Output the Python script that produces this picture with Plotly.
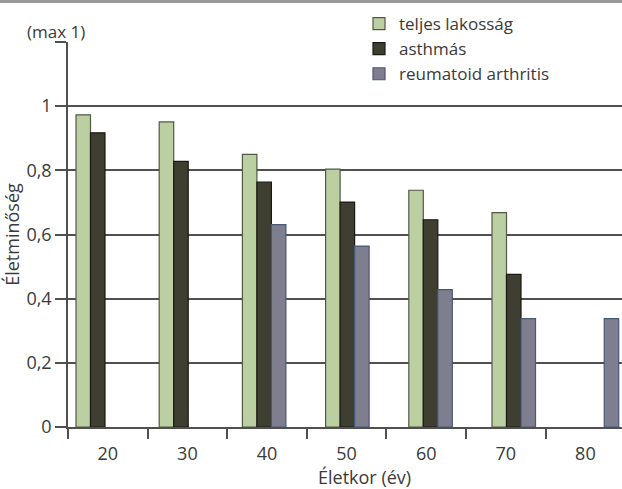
import plotly.graph_objects as go

# Age groups (years) and quality-of-life scores (max 1)
ages = ["20", "30", "40", "50", "60", "70", "80"]
teljes_lakossag = [0.973, 0.951, 0.850, 0.804, 0.738, 0.668, None]
asthmas = [0.917, 0.828, 0.763, 0.701, 0.646, 0.476, None]
reumatoid = [None, None, 0.631, 0.564, 0.428, 0.338, 0.338]

y_ticks = [0, 0.2, 0.4, 0.6, 0.8, 1.0]
y_ticktext = ["0", "0,2", "0,4", "0,6", "0,8", "1"]

FONT = "Open Sans"
FS = 18
TXT = "#3a3a3a"
GRID = "#505050"

W, H = 622, 489
ML, MR, MT, MB = 68, 0, 42, 62
PW = W - ML - MR
PH = H - MT - MB

fig = go.Figure()

series = [
    ("teljes lakosság", teljes_lakossag, "#bccfa2", "#4e5a44"),
    ("asthmás", asthmas, "#3f3f31", "#1a1a14"),
    ("reumatoid arthritis", reumatoid, "#7e7e8e", "#485a78"),
]
for name, vals, fill, edge in series:
    fig.add_trace(go.Bar(
        x=ages, y=vals, name=name, xaxis="x2", yaxis="y",
        marker=dict(color=fill, line=dict(color=edge, width=1.2)),
    ))

idx = list(range(len(ages)))

# Empty helper trace so the labelled age axis gets drawn
fig.add_trace(go.Scatter(
    x=idx, y=[None] * len(idx), xaxis="x", yaxis="y", mode="lines",
    showlegend=False, hoverinfo="skip",
))

fig.update_layout(
    width=W, height=H,
    margin=dict(l=ML, r=MR, t=MT, b=MB, pad=0),
    paper_bgcolor="white", plot_bgcolor="white",
    font=dict(family=FONT, size=FS, color=TXT),
    barmode="group", bargap=0.477, bargroupgap=0,
    showlegend=True,
    legend=dict(
        x=(359 - ML) / PW, xanchor="left",
        y=1 + (MT - 6) / PH, yanchor="top",
        bgcolor="rgba(0,0,0,0)", borderwidth=0,
        font=dict(family=FONT, size=17, color=TXT),
        tracegroupgap=0, itemclick=False,
    ),
    xaxis=dict(
        range=[-0.5, -0.5 + PW / 79.6],
        tickmode="array", tickvals=idx, ticktext=ages,
        ticks="outside", ticklen=10, tickcolor="rgba(0,0,0,0)",
        showgrid=False, zeroline=False,
        showline=True, linecolor=GRID, linewidth=1.5,
        minor=dict(
            tickmode="array", tickvals=[i - 0.5 for i in idx],
            ticks="outside", ticklen=10, tickcolor=GRID, tickwidth=1.5,
            showgrid=False,
        ),
        tickfont=dict(family=FONT, size=FS, color=TXT),
        fixedrange=True,
    ),
    xaxis2=dict(
        type="category", categoryarray=ages, categoryorder="array",
        overlaying="x", anchor="y", side="bottom",
        range=[-0.3576, 6.301], visible=False, fixedrange=True,
    ),
    yaxis=dict(
        range=[0, 1.2],
        tickmode="array", tickvals=y_ticks, ticktext=y_ticktext,
        ticks="outside", ticklen=11, tickcolor=GRID, tickwidth=1.5,
        showgrid=True, gridcolor=GRID, gridwidth=1.5,
        zeroline=False, showline=True, linecolor=GRID, linewidth=1.5,
        minor=dict(tickmode="array", tickvals=[1.2], ticks="outside",
                   ticklen=11, tickcolor=GRID, tickwidth=1.5, showgrid=False),
        tickfont=dict(family=FONT, size=FS, color=TXT),
        title=dict(text="Életminőség", standoff=4,
                   font=dict(family=FONT, size=FS, color=TXT)),
        fixedrange=True,
    ),
)

# Unit note above the value axis
fig.add_annotation(
    text="(max 1)", xref="paper", yref="paper",
    x=(56 - ML) / PW, y=1 + (MT - 32) / PH,
    xanchor="center", yanchor="middle", showarrow=False,
    font=dict(family=FONT, size=17, color=TXT),
)
# Age axis title
fig.add_annotation(
    text="Életkor (év)", xref="paper", yref="paper",
    x=(364 - ML) / PW, y=-(H + 2 - (MT + PH)) / PH,
    xanchor="center", yanchor="bottom", showarrow=False,
    font=dict(family=FONT, size=18, color=TXT),
)
# Thin rule along the top edge
fig.add_shape(
    type="rect", xref="paper", yref="paper",
    x0=-ML / PW, x1=1, y0=1 + (MT - 3) / PH, y1=1 + MT / PH,
    fillcolor="#9a9a9a", line=dict(width=0), layer="above",
)

fig.write_html("out.html")
